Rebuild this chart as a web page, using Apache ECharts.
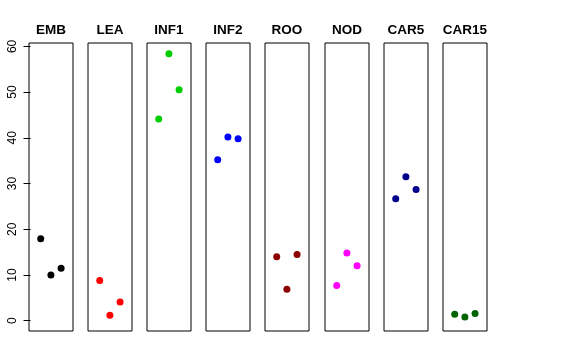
<!DOCTYPE html>
<html>
<head>
<meta charset="utf-8">
<script src="https://cdn.jsdelivr.net/npm/echarts@6/dist/echarts.min.js"></script>
<style>html,body{margin:0;padding:0;background:#fff;}#c{width:576px;height:360px;}</style>
</head>
<body>
<div id="c"></div>
<script>
// ---- data ----
var categories = ['EMB','LEA','INF1','INF2','ROO','NOD','CAR5','CAR15'];
var colors = ['#000000','#FF0000','#00CD00','#0000FF','#8B0000','#FF00FF','#00008B','#006400'];
var xPos = [1, 2, 3];
var valEMB   = [17.9, 10.0, 11.5];
var valLEA   = [8.8, 1.2, 4.1];
var valINF1  = [44.1, 58.4, 50.5];
var valINF2  = [35.2, 40.2, 39.8];
var valROO   = [14.0, 6.9, 14.5];
var valNOD   = [7.7, 14.8, 12.0];
var valCAR5  = [26.7, 31.5, 28.7];
var valCAR15 = [1.4, 0.8, 1.6];
var yTicks = [0, 10, 20, 30, 40, 50, 60];
var seriesValues = [valEMB, valLEA, valINF1, valINF2, valROO, valNOD, valCAR5, valCAR15];

// ---- layout ----
var FONT = "'Liberation Sans', Arial, Helvetica, sans-serif";
var panelLeft = 29, panelStep = 59.1, panelW = 44, panelTop = 43, panelH = 288;
var yMin = -2.25, yMax = 60.74;

var grids = [], xAxes = [], yAxes = [], series = [], titles = [];
categories.forEach(function (cat, i) {
  var left = Math.round(panelLeft + panelStep * i);
  grids.push({
    left: left, top: panelTop, width: panelW, height: panelH,
    show: true, borderColor: '#000', borderWidth: 1, backgroundColor: 'transparent'
  });
  xAxes.push({
    type: 'value', gridIndex: i, min: -0.15, max: 4.17,
    show: false
  });
  yAxes.push({
    type: 'value', gridIndex: i, min: yMin, max: yMax,
    show: i === 0,
    axisLine: { show: false },
    splitLine: { show: false },
    axisTick: {
      show: true, length: 7, lineStyle: { color: '#000', width: 1 },
      customValues: yTicks
    },
    axisLabel: {
      show: true, rotate: 90, margin: 10, fontSize: 12, color: '#000',
      fontFamily: FONT, customValues: yTicks,
      formatter: function (v) { return String(v); }
    }
  });
  series.push({
    type: 'scatter', xAxisIndex: i, yAxisIndex: i,
    symbol: 'circle', symbolSize: 7,
    itemStyle: { color: colors[i], opacity: 1 },
    data: xPos.map(function (x, k) { return [x, seriesValues[i][k]]; }),
    silent: true
  });
  titles.push({
    text: cat, left: left + panelW / 2, top: 23, textAlign: 'center', padding: 0,
    textStyle: { fontSize: 13.5, fontWeight: 'bold', color: '#000', fontFamily: FONT }
  });
});

var chart = echarts.init(document.getElementById('c'), null, { renderer: 'canvas' });
chart.setOption({
  animation: false,
  backgroundColor: '#fff',
  title: titles,
  grid: grids,
  xAxis: xAxes,
  yAxis: yAxes,
  series: series
});
</script>
</body>
</html>
